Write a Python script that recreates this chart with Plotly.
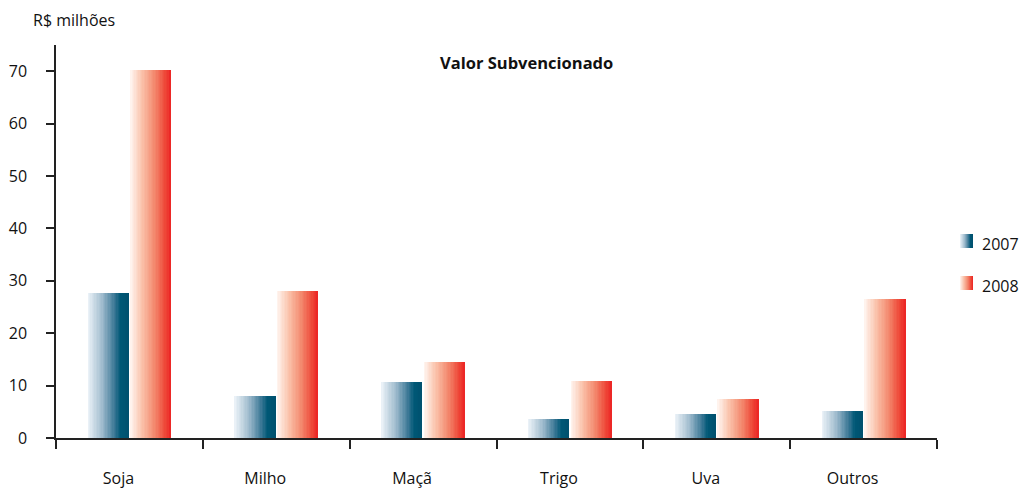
import plotly.graph_objects as go

categories = ["Soja", "Milho", "Maçã", "Trigo", "Uva", "Outros"]
v2007 = [27.7, 8.0, 10.7, 3.6, 4.6, 5.2]
v2008 = [70.2, 28.1, 14.5, 10.9, 7.5, 26.6]
series_names = ["2007", "2008"]
y_ticks = [0, 10, 20, 30, 40, 50, 60, 70]

FONT = "Open Sans"
N = 30

stops_2007 = [(0.0, (238, 244, 249)), (0.35, (160, 188, 206)), (0.65, (60, 120, 150)),
              (0.8, (0, 88, 118)), (1.0, (0, 80, 110))]
stops_2008 = [(0.0, (255, 246, 241)), (0.3, (250, 192, 168)), (0.6, (243, 135, 108)),
              (0.85, (238, 72, 56)), (1.0, (236, 36, 36))]


def grad(stops, t):
    for (t0, c0), (t1, c1) in zip(stops, stops[1:]):
        if t <= t1:
            f = (t - t0) / (t1 - t0) if t1 > t0 else 0
            c = [round(a + (b - a) * f) for a, b in zip(c0, c1)]
            return "rgb(%d,%d,%d)" % tuple(c)
    return "rgb(%d,%d,%d)" % stops[-1][1]


fig = go.Figure()
bar_w = 0.28
starts = [-0.285, 0.005]
for vals, stops, start in [(v2007, stops_2007, starts[0]), (v2008, stops_2008, starts[1])]:
    for k in range(N):
        t = (k + 0.5) / N
        off = start + k * bar_w / N
        w = bar_w - k * bar_w / N
        fig.add_trace(go.Bar(
            x=categories, y=vals, offset=off, width=w,
            marker=dict(color=grad(stops, t), line=dict(width=0)),
            showlegend=False, hoverinfo="skip"))

plot_l, plot_r, plot_t, plot_b = 56, 937, 45, 438
pw, ph = plot_r - plot_l, plot_b - plot_t


def px(x):
    return (x - plot_l) / pw


def py(y):
    return (plot_b - y) / ph


shapes = []
annotations = []
for i, (name, stops) in enumerate([(series_names[0], stops_2007), (series_names[1], stops_2008)]):
    top = 234 + i * 42
    x0 = 960
    sw = 13
    for k in range(N):
        t = (k + 0.5) / N
        shapes.append(dict(type="rect", xref="paper", yref="paper",
                           x0=px(x0 + k * sw / N), x1=px(x0 + sw),
                           y0=py(top + 14), y1=py(top),
                           fillcolor=grad(stops, t), line=dict(width=0)))
    annotations.append(dict(text=name, xref="paper", yref="paper", x=px(980), y=py(top + 10),
                            xanchor="left", yanchor="middle", showarrow=False,
                            font=dict(family=FONT, size=16, color="#111")))

annotations.append(dict(text="R$ milhões", xref="paper", yref="paper", x=px(31), y=py(20),
                        xanchor="left", yanchor="middle", showarrow=False,
                        font=dict(family=FONT, size=16, color="#111")))
annotations.append(dict(text="<b>Valor Subvencionado</b>", xref="paper", yref="paper",
                        x=px(526), y=py(62), xanchor="center", yanchor="middle", showarrow=False,
                        font=dict(family=FONT, size=16.5, color="#111")))

fig.update_layout(
    width=1021, height=490,
    margin=dict(l=plot_l, r=1021 - plot_r, t=plot_t, b=490 - plot_b, autoexpand=False),
    paper_bgcolor="white", plot_bgcolor="white",
    barmode="overlay", bargap=0,
    showlegend=False,
    shapes=shapes, annotations=annotations,
    font=dict(family=FONT, size=16, color="#111"),
    xaxis=dict(type="category", range=[-0.5, 5.5], tickson="boundaries",
               ticks="outside", ticklen=9, tickcolor="#222", tickwidth=1.5,
               showline=True, linecolor="#222", linewidth=1.5, showgrid=False,
               ticklabelstandoff=25, ticklabelshift=-11,
               tickfont=dict(family=FONT, size=16, color="#111"),
               fixedrange=True, automargin=False),
    yaxis=dict(range=[0, 75], tickvals=y_ticks, ticks="outside", ticklen=8,
               tickcolor="#222", tickwidth=1.5, showline=True, linecolor="#222", linewidth=1.5,
               showgrid=False, zeroline=False, ticklabelstandoff=16,
               tickfont=dict(family=FONT, size=16, color="#111"), fixedrange=True,
               automargin=False),
)

fig.write_html("out.html", config={"displayModeBar": False},
               post_script="document.body.style.margin='0';document.body.style.overflow='hidden';")
